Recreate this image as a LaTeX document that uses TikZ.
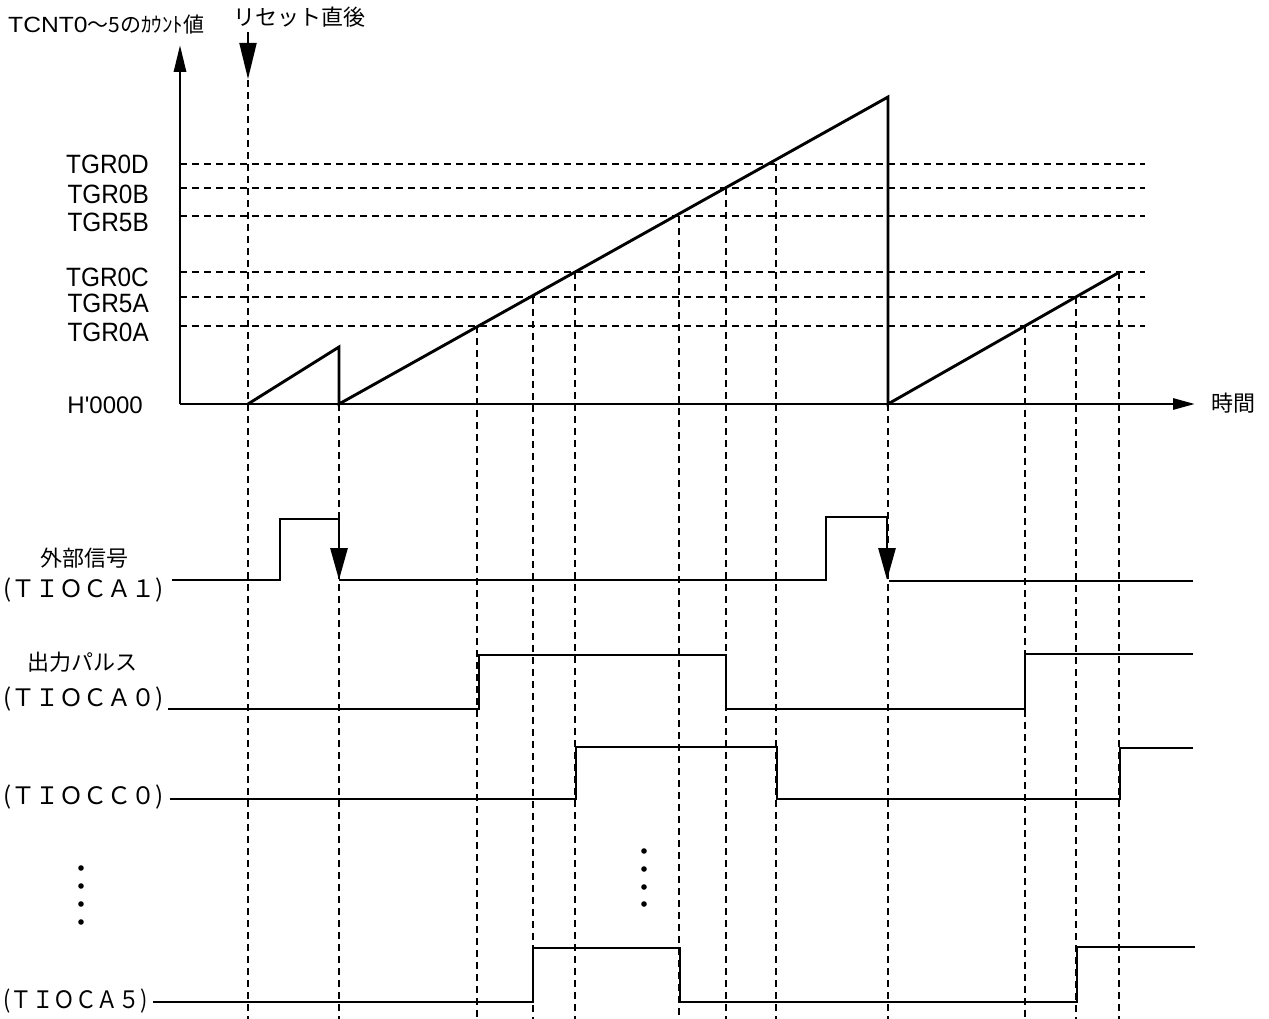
\documentclass[tikz,border=0pt]{standalone}
\usepackage{fontspec}
\setmainfont{Liberation Sans}
\newfontfamily\jp{Noto Sans CJK JP}
\newfontfamily\hfont[Ligatures=ResetAll]{Liberation Sans}
\newfontfamily\tgrfont[FakeStretch=0.92]{Liberation Sans}
\newfontfamily\tcntfont[FakeStretch=1.12]{Liberation Sans}
\usetikzlibrary{arrows.meta}
\begin{document}
\begin{tikzpicture}[x=1pt,y=-1pt,
  sig/.style={line width=2.9pt, line join=miter},
  guide/.style={line width=1.4pt, dash pattern=on 7pt off 5pt},
  tgr/.style={font=\tgrfont\fontsize{26.5}{26.5}\selectfont, anchor=east, inner sep=0pt},
  jl/.style={font=\jp\fontsize{22}{22}\selectfont, inner sep=0pt},
  pl/.style={font=\jp\fontsize{24}{24}\selectfont, inner sep=0pt, anchor=west},
  bigtip/.tip={Triangle[length=32pt,width=17pt]},
]
\useasboundingbox (0,0) rectangle (1269,1019);

% ---- level coordinates
\coordinate (y0) at (180,404);
\coordinate (ytop) at (180,45);
\coordinate (xend) at (1195,404);

% ---- horizontal guide lines
\foreach \yy in {164,188,216,272,297,326}
  \draw[guide] (180,\yy) -- (1145,\yy);

% ---- vertical guide lines
\draw[guide] (248,80) -- (248,1019);
\foreach \xx/\ys in {339/404,477/326,533/297,575/272,679/216,726/188,776/164,888/404,1025/326,1076/297,1119/272}
  \draw[guide] (\xx,\ys) -- (\xx,1019);

% ---- axes
\draw[line width=2.9pt,-{Triangle[length=27pt,width=12pt]}] (y0) -- (ytop);
\draw[line width=2.9pt,-{Triangle[length=22pt,width=11pt]}] (y0) -- (xend);

% ---- counter sawtooth
\draw[sig] (248,404) -- (339,347) -- (339,404) -- (888,97) -- (888,404) -- (1118,273);

% ---- reset arrow
\coordinate (rs0) at (248,32);
\coordinate (rs1) at (248,79);
\draw[line width=2pt,-{Triangle[length=36pt,width=17pt]}] (rs0) -- (rs1);

% ---- labels of the count axis
\node[anchor=base west, inner sep=0pt] (ylab) at (8,32.3)
  {{\tcntfont\fontsize{22}{22}\selectfont TCNT0}{\jp\fontsize{21}{21}\selectfont ～5のｶｳﾝﾄ値}};
\node[jl] (reset) at (299,17.5) {リセット直後};
\node[jl] (time) at (1233,403) {時間};

\node[tgr] (lD) at (149,164.5) {TGR0D};
\node[tgr] (lB) at (149,194.5) {TGR0B};
\node[tgr] (l5B) at (149,222) {TGR5B};
\node[tgr] (lC) at (149,277) {TGR0C};
\node[tgr] (l5A) at (149,303.5) {TGR5A};
\node[tgr] (lA) at (149,332.5) {TGR0A};
\node[font=\hfont\fontsize{24}{24}\selectfont, anchor=east, inner sep=0pt] (l0) at (143,405) {H'0000};

% ---- external signal TIOCA1
\draw[sig,-bigtip] (172,580) -| (280,519) -- (339,519) -- (339,580);
\draw[sig,-bigtip] (339,580) -- (826,580) |- (887,517) -- (887,580);
\draw[sig] (889,581) -- (1193,581);

% ---- TIOCA0
\draw[sig] (168,709) -| (479,655) -| (726,709) -| (1025,654) -- (1193,654);

% ---- TIOCC0
\draw[sig] (170,799) -| (576,747) -| (777,799) -| (1120,748) -- (1193,748);

% ---- TIOCA5
\draw[sig] (153,1002) -| (533,948) -| (680,1002) -| (1077,947) -- (1195,947);

% ---- signal labels
\node[jl] (extlab) at (84,558) {外部信号};
\node[pl] (a1lab) at (3,590) {(ＴＩＯＣＡ１)};
\node[jl] (outlab) at (82.5,662) {出力パルス};
\node[pl] (a0lab) at (3,699) {(ＴＩＯＣＡ０)};
\node[pl] (c0lab) at (3,797) {(ＴＩＯＣＣ０)};
\node[pl] (a5lab) at (3,1001) {\scalebox{0.9}[1]{(ＴＩＯＣＡ５)}};

% ---- ellipsis dots
\foreach \yy in {868,886,904,922} \fill (81,\yy) circle (2.8pt);
\foreach \yy in {851,869,887,904} \fill (644,\yy) circle (2.8pt);
\end{tikzpicture}
\end{document}
